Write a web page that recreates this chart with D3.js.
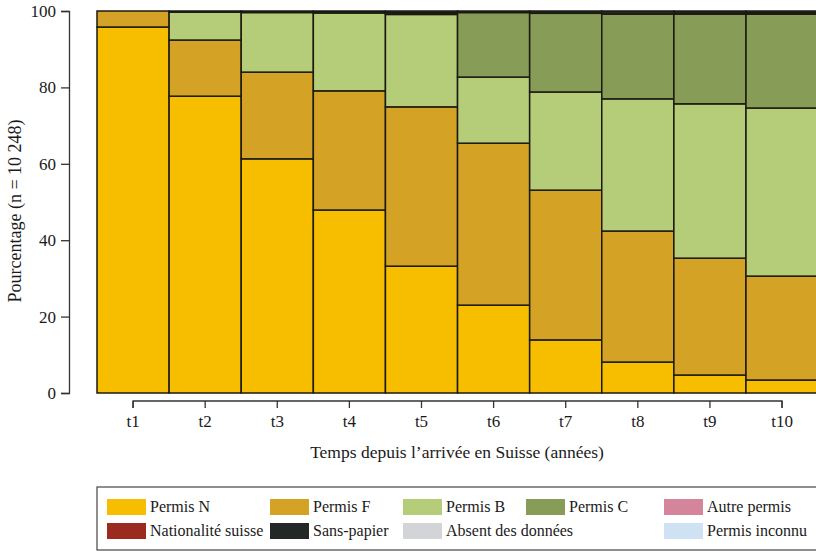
<!DOCTYPE html>
<html><head><meta charset="utf-8">
<script src="https://cdn.jsdelivr.net/npm/d3@7"></script>
<style>body{margin:0;background:#fff}svg{display:block}</style>
</head><body>
<svg id="c" width="816" height="551"></svg>
<script>
const categories = ["t1","t2","t3","t4","t5","t6","t7","t8","t9","t10"];
const permisN      = [95.8, 77.7, 61.3, 47.9, 33.2, 23.0, 13.9, 8.1, 4.7, 3.4];
const permisF      = [4.2, 14.7, 22.7, 31.2, 41.7, 42.4, 39.2, 34.3, 30.6, 27.2];
const permisB      = [0, 7.3, 15.6, 20.4, 24.2, 17.3, 25.7, 34.6, 40.4, 44.0];
const permisC      = [0, 0, 0, 0.1, 0.4, 16.9, 20.6, 22.2, 23.5, 24.6];
const autrePermis  = [0, 0, 0, 0, 0, 0, 0, 0, 0, 0];
const nationalite  = [0, 0, 0, 0, 0, 0, 0, 0, 0.2, 0.3];
const sansPapier   = [0, 0.3, 0.4, 0.4, 0.5, 0.4, 0.6, 0.8, 0.6, 0.5];
const absent       = [0, 0, 0, 0, 0, 0, 0, 0, 0, 0];
const inconnu      = [0, 0, 0, 0, 0, 0, 0, 0, 0, 0];
const seriesNames  = ["Permis N","Permis F","Permis B","Permis C","Autre permis","Nationalité suisse","Sans-papier","Absent des données","Permis inconnu"];
const seriesColors = ["#F7BE00","#D4A325","#B5CD78","#869C57","#D4849B","#9B2A1F","#232826","#D3D4D8","#CFE2F3"];
const yTicks = [0,20,40,60,80,100];

const FONT = "'Liberation Serif', 'DejaVu Serif', serif";
const seriesVals = [permisN, permisF, permisB, permisC, autrePermis, nationalite, sansPapier, absent, inconnu];
const rows = categories.map((c,i)=>{const r={cat:c}; seriesNames.forEach((s,j)=>r[s]=seriesVals[j][i]); return r;});
const stack = d3.stack().keys(seriesNames)(rows);

const svg = d3.select("#c");
const x = d3.scaleBand().domain(categories).range([97, 818.1]).padding(0);
const y = d3.scaleLinear().domain([0,100]).range([393, 11]);

const g = svg.append("g");
stack.forEach((layer,j)=>{
  g.selectAll(null).data(layer.filter(d=>d[1]-d[0]>0)).enter().append("rect")
    .attr("x", d=>x(d.data.cat)).attr("width", x.bandwidth())
    .attr("y", d=>y(d[1])).attr("height", d=>y(d[0])-y(d[1]))
    .attr("fill", seriesColors[j]).attr("stroke","#1b1a12").attr("stroke-width",1.5);
});

// y axis
const ya = svg.append("g").attr("transform","translate(69,0)")
  .call(d3.axisLeft(y).tickValues(yTicks).tickSize(8).tickPadding(5));
ya.attr("font-family", FONT);
ya.select(".domain").attr("stroke","#333").attr("stroke-width",1.3);
ya.selectAll(".tick line").attr("stroke","#333").attr("stroke-width",1.3);
ya.selectAll("text").attr("font-family", FONT).style("font-size","17px").attr("fill","#1a1a1a");

// x axis
const xa = svg.append("g").attr("transform","translate(0,401)")
  .call(d3.axisBottom(x).tickSize(7).tickSizeOuter(0).tickPadding(7));
xa.attr("font-family", FONT);
xa.select(".domain").attr("stroke","#333").attr("stroke-width",1.3)
  .attr("d", `M${x("t1")+x.bandwidth()/2},7V0H${x("t10")+x.bandwidth()/2}V7`);
xa.selectAll(".tick line").attr("stroke","#333").attr("stroke-width",1.3);
xa.selectAll("text").attr("font-family", FONT).style("font-size","17px").attr("fill","#1a1a1a");

svg.append("text").attr("x", 457).attr("y", 458).attr("text-anchor","middle")
  .attr("font-family", FONT).attr("fill","#1a1a1a")
  .style("font-size","17.5px").text("Temps depuis l’arrivée en Suisse (années)");
svg.append("text").attr("transform","translate(21,211) rotate(-90)").attr("text-anchor","middle")
  .attr("font-family", FONT).attr("fill","#1a1a1a")
  .style("font-size","18px").text("Pourcentage (n = 10 248)");

// legend
svg.append("rect").attr("x",97).attr("y",487).attr("width",740).attr("height",63)
  .attr("fill","none").attr("stroke","#444").attr("stroke-width",1.2);
const colX = [107, 270, 403, 526, 664];
const legendPos = [[0,0],[1,0],[2,0],[3,0],[4,0],[0,1],[1,1],[2,1],[4,1]];
seriesNames.forEach((s,j)=>{
  const [c,r] = legendPos[j];
  const lx = colX[c], ly = 499 + r*24;
  svg.append("rect").attr("x",lx).attr("y",ly).attr("width",39).attr("height",16).attr("fill",seriesColors[j]);
  svg.append("text").attr("x",lx+43).attr("y",ly+13).attr("font-family", FONT).attr("fill","#1a1a1a")
    .style("font-size","16px").text(s);
});
</script>
</body></html>
